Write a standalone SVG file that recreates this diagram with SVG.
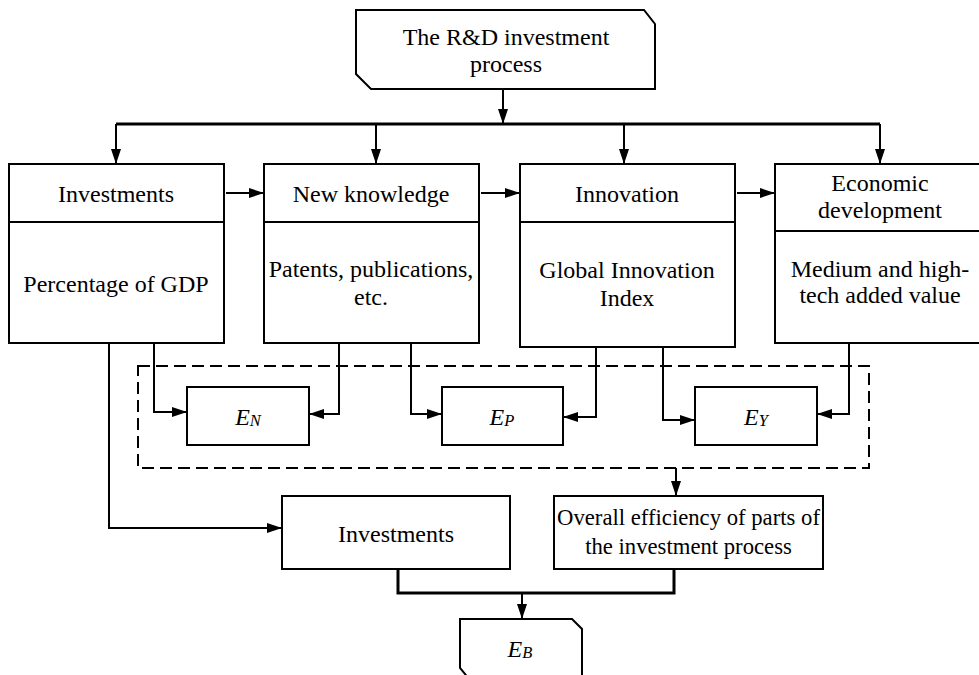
<svg xmlns="http://www.w3.org/2000/svg" width="979" height="675" viewBox="0 0 979 675">
<defs>
<marker id="arr" markerUnits="userSpaceOnUse" markerWidth="15" markerHeight="10" refX="15" refY="5" orient="auto">
<path d="M0,0 L15,5 L0,10 Z" fill="#000"/>
</marker>
<style>
.box{fill:#fff;stroke:#000;stroke-width:2}
.ln{fill:none;stroke:#000;stroke-width:2}
.thk{fill:none;stroke:#000;stroke-width:3}
.dash{fill:none;stroke:#000;stroke-width:2;stroke-dasharray:12 6}
.t{font-size:24px;fill:#000;text-anchor:middle}
.it{font-style:italic}
.sub{font-size:16.5px}
.sm{font-size:22.7px}
</style>
</defs>
<rect width="979" height="675" fill="#fff"/>

<g id="dashed-group">
<rect class="dash" x="138" y="366" width="731" height="102"/>
</g>

<g id="connectors">
<path class="ln" d="M503,89 V124" marker-end="url(#arr)"/>
<path class="thk" d="M116,124 H880"/>
<path class="ln" d="M116,124 V164" marker-end="url(#arr)"/>
<path class="ln" d="M376,124 V164" marker-end="url(#arr)"/>
<path class="ln" d="M624,124 V164" marker-end="url(#arr)"/>
<path class="ln" d="M880,124 V164" marker-end="url(#arr)"/>
<path class="ln" d="M226,193 H264" marker-end="url(#arr)"/>
<path class="ln" d="M481,193 H520" marker-end="url(#arr)"/>
<path class="ln" d="M737,193 H775" marker-end="url(#arr)"/>
<path class="ln" d="M154,343 V412 H187" marker-end="url(#arr)"/>
<path class="ln" d="M339,343 V414 H309" marker-end="url(#arr)"/>
<path class="ln" d="M411,343 V414 H442" marker-end="url(#arr)"/>
<path class="ln" d="M596,347 V417 H563" marker-end="url(#arr)"/>
<path class="ln" d="M663,347 V420 H695" marker-end="url(#arr)"/>
<path class="ln" d="M849,343 V414 H817" marker-end="url(#arr)"/>
<path class="ln" d="M676,468 V496" marker-end="url(#arr)"/>
<path class="ln" d="M109,343 V528 H282" marker-end="url(#arr)"/>
<path class="thk" d="M398,569 V593 H674 V569"/>
<path class="ln" d="M522,593 V619" marker-end="url(#arr)"/>
</g>

<g font-family="'Liberation Serif', 'Times New Roman', 'DejaVu Serif', serif">
<g id="start">
<path class="box" d="M356,10 H644 L655,24 V89 H371 L356,74 Z"/>
<text class="t" x="506" y="45">The R&amp;D investment</text>
<text class="t" x="506" y="72">process</text>
</g>

<g id="investments">
<rect class="box" x="9" y="164" width="215" height="179"/>
<line class="ln" x1="9" y1="222" x2="224" y2="222"/>
<text class="t" x="116" y="202">Investments</text>
<text class="t" x="116" y="292">Percentage of GDP</text>
</g>

<g id="new-knowledge">
<rect class="box" x="264" y="164" width="215" height="179"/>
<line class="ln" x1="264" y1="222" x2="479" y2="222"/>
<text class="t" x="371" y="202">New knowledge</text>
<text class="t" x="371" y="277">Patents, publications,</text>
<text class="t" x="371" y="305">etc.</text>
</g>

<g id="innovation">
<rect class="box" x="520" y="164" width="215" height="183"/>
<line class="ln" x1="520" y1="222" x2="735" y2="222"/>
<text class="t" x="627" y="202">Innovation</text>
<text class="t" x="627" y="278">Global Innovation</text>
<text class="t" x="627" y="306">Index</text>
</g>

<g id="economic-development">
<rect class="box" x="775" y="164" width="210" height="179"/>
<line class="ln" x1="775" y1="231" x2="985" y2="231"/>
<text class="t" x="880" y="191">Economic</text>
<text class="t" x="880" y="218">development</text>
<text class="t" x="880" y="277">Medium and high-</text>
<text class="t" x="880" y="303">tech added value</text>
</g>

<g id="EN">
<rect class="box" x="187" y="387" width="122" height="58"/>
<text class="t it" x="248" y="425">E<tspan class="sub" dy="1">N</tspan></text>
</g>

<g id="EP">
<rect class="box" x="442" y="387" width="121" height="58"/>
<text class="t it" x="502" y="425">E<tspan class="sub" dy="1">P</tspan></text>
</g>

<g id="EY">
<rect class="box" x="695" y="387" width="122" height="58"/>
<text class="t it" x="756" y="425">E<tspan class="sub" dy="1">Y</tspan></text>
</g>

<g id="investments-2">
<rect class="box" x="282" y="496" width="228" height="73"/>
<text class="t" x="396" y="542">Investments</text>
</g>

<g id="overall-efficiency">
<rect class="box" x="554" y="496" width="269" height="73"/>
<text class="t sm" x="688.5" y="525">Overall efficiency of parts of</text>
<text class="t sm" x="688.5" y="554">the investment process</text>
</g>

<g id="EB">
<path class="box" d="M460,619 H572 L582,629 V680 H470 L460,668 Z"/>
<text class="t it" x="520" y="657">E<tspan class="sub" dy="1">B</tspan></text>
</g>
</g>
</svg>
